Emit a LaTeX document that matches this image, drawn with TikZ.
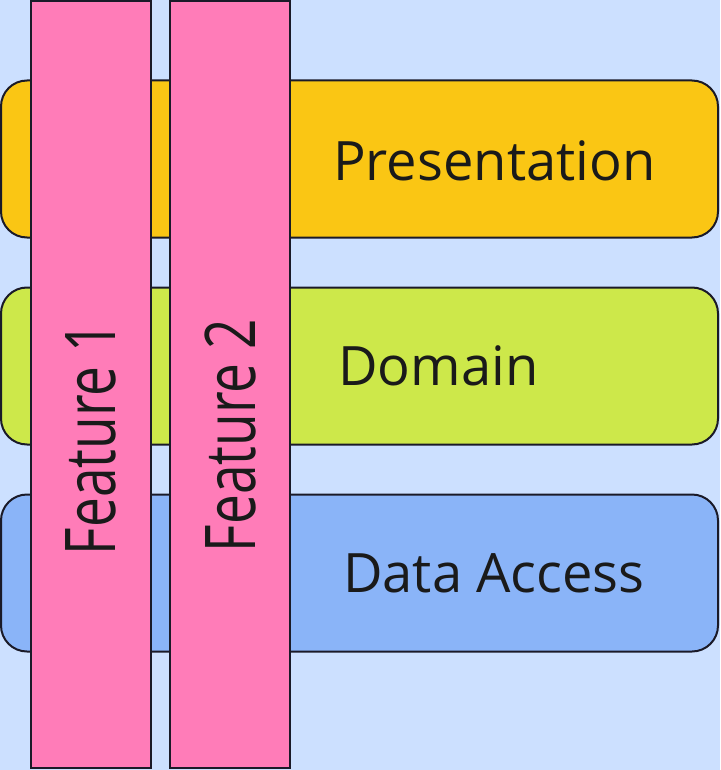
\documentclass[tikz,border=0pt]{standalone}
\usepackage{fontspec}
\setmainfont{Open Sans}
\usetikzlibrary{positioning}
\definecolor{bgblue}{RGB}{204,224,255}
\definecolor{presyellow}{RGB}{250,198,20}
\definecolor{domlime}{RGB}{205,232,74}
\definecolor{datablue}{RGB}{138,180,248}
\definecolor{featpink}{RGB}{255,124,184}
\definecolor{edgedark}{RGB}{26,26,40}
\definecolor{textdark}{RGB}{26,26,26}
\tikzset{
  layer/.style={
    rectangle, rounded corners=26pt,
    minimum width=717pt, minimum height=157pt,
    inner sep=0pt, draw=edgedark, line width=2pt
  },
  preslayer/.style={layer, fill=presyellow},
  domlayer/.style ={layer, fill=domlime},
  datalayer/.style={layer, fill=datablue},
  featcol/.style={
    rectangle, minimum width=120pt, minimum height=767pt,
    inner sep=0pt, draw=edgedark, line width=2pt, fill=featpink
  },
  layertext/.style={anchor=base west, inner sep=0pt, text=textdark,
    font=\fontsize{54.3}{60}\selectfont},
  feattext/.style={rotate=90, inner sep=0pt, text=textdark,
    font=\fontsize{70}{80}\selectfont},
}

\begin{document}
\begin{tikzpicture}[x=1pt, y=-1pt, node distance=48pt]

  % Background
  \fill[bgblue] (0,0) rectangle (720,770);
  \useasboundingbox (0,0) rectangle (720,770);

  % Layers
  \node[preslayer]                  (pres) at (359.5,159) {};
  \node[domlayer,  below=of pres]   (dom)  {};
  \node[datalayer, below=of dom]    (data) {};

  \node[layertext] (presl) at (333,180) {Presentation};
  \node[layertext] (doml)  at (338,385) {Domain};
  \node[layertext] (datal) at (343,592) {Data Access};

  % Features
  \node[featcol]                   (f1) at (91,384.5) {};
  \node[featcol, right=17pt of f1] (f2) {};

  \node[feattext] (f1l) at ([yshift=-54pt]f1.center) {\scalebox{0.76}[1]{Feature 1}};
  \node[feattext] (f2l) at ([yshift=-51pt]f2.center) {\scalebox{0.76}[1]{Feature 2}};

\end{tikzpicture}
\end{document}
